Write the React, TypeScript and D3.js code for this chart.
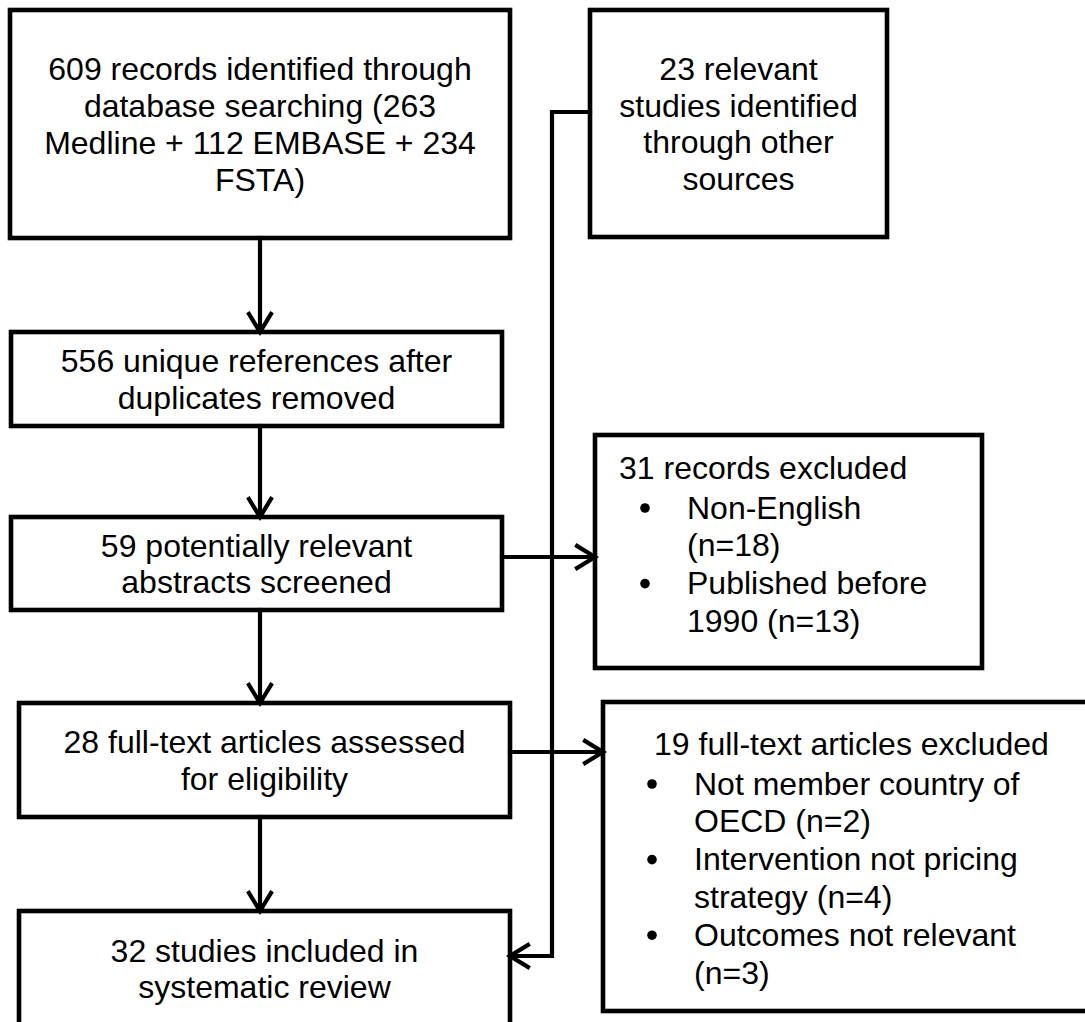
import React from "react";
import * as d3 from "d3";

const WIDTH = 1085;
const HEIGHT = 1022;

// box texts
const identifiedLines = ["609 records identified through", "database searching (263", "Medline + 112 EMBASE + 234", "FSTA)"];
const otherSourcesLines = ["23 relevant", "studies identified", "through other", "sources"];
const uniqueLines = ["556 unique references after", "duplicates removed"];
const screenedLines = ["59 potentially relevant", "abstracts screened"];
const assessedLines = ["28 full-text articles assessed", "for eligibility"];
const includedLines = ["32 studies included in", "systematic review"];

const recordsExcludedTitle = "31 records excluded";
const recordsExcludedItems = [["Non-English", "(n=18)"], ["Published before", "1990 (n=13)"]];
const articlesExcludedTitle = "19 full-text articles excluded";
const articlesExcludedItems = [
  ["Not member country of", "OECD (n=2)"],
  ["Intervention not pricing", "strategy (n=4)"],
  ["Outcomes not relevant", "(n=3)"],
];

type Box = { x: number; y: number; w: number; h: number };
const layout: Record<string, Box> = {
  identified: { x: 10, y: 10, w: 500, h: 228 },
  other: { x: 590, y: 10, w: 297, h: 227 },
  unique: { x: 11, y: 332, w: 491, h: 94 },
  screened: { x: 11, y: 517, w: 491, h: 93 },
  assessed: { x: 19, y: 703, w: 491, h: 114 },
  included: { x: 19, y: 911, w: 491, h: 115 },
  recordsExcl: { x: 595, y: 435, w: 387, h: 233 },
  articlesExcl: { x: 603, y: 702, w: 490, h: 309 },
};

const FONT = "'Liberation Sans', Arial, Helvetica, sans-serif";
const FS = 32;
const LH = 36.7;
const BOX_SW = 4.6;
const LINE_SW = 4.2;

const line = d3.line<[number, number]>().x(d => d[0]).y(d => d[1]);

function head(tip: [number, number], dir: [number, number]) {
  const len = 18, half = 11;
  const [dx, dy] = dir;
  const bx = tip[0] - dx * len, by = tip[1] - dy * len;
  const px = -dy, py = dx;
  return line([[bx + px * half, by + py * half], tip, [bx - px * half, by - py * half]]) || "";
}

function CenteredBox({ b, lines }: { b: Box; lines: string[] }) {
  const cx = b.x + b.w / 2;
  const cy = b.y + b.h / 2;
  const first = cy - ((lines.length - 1) * LH) / 2;
  return (
    <g>
      <rect x={b.x} y={b.y} width={b.w} height={b.h} fill="#fff" stroke="#000" strokeWidth={BOX_SW} />
      {lines.map((t, i) => (
        <text key={i} x={cx} y={first + i * LH + 11.5} textAnchor="middle">{t}</text>
      ))}
    </g>
  );
}

function ListBox({ b, title, items, titleX, titleY, bulletX, textX }:
  { b: Box; title: string; items: string[][]; titleX: number; titleY: number; bulletX: number; textX: number }) {
  const step = 37.8;
  let row = 0;
  return (
    <g>
      <rect x={b.x} y={b.y} width={b.w} height={b.h} fill="#fff" stroke="#000" strokeWidth={BOX_SW} />
      <text x={titleX} y={titleY + 11.5}>{title}</text>
      {items.map((it, i) => {
        const startRow = row;
        row += it.length;
        const y0 = titleY + 40 + startRow * step;
        return (
          <g key={i}>
            <circle cx={bulletX} cy={y0 + 1} r={4.8} fill="#000" />
            {it.map((t, j) => (
              <text key={j} x={textX} y={y0 + j * step + 11.5}>{t}</text>
            ))}
          </g>
        );
      })}
    </g>
  );
}

export default function App() {
  const L = layout;
  const ax = 260;
  const down = (y1: number, y2: number) => (
    <g>
      <path d={line([[ax, y1], [ax, y2 - 2]]) || ""} />
      <path d={head([ax, y2], [0, 1])} />
    </g>
  );
  const right = (x1: number, x2: number, y: number) => (
    <g>
      <path d={line([[x1, y], [x2 - 2, y]]) || ""} />
      <path d={head([x2, y], [1, 0])} />
    </g>
  );
  const busX = 552;
  const busTop = 112;
  const busBottom = 956;

  return (
    <svg width={WIDTH} height={HEIGHT} style={{ position: "absolute", left: 0, top: 0, display: "block", background: "#fff" }}
      fontFamily={FONT} fontSize={FS} fill="#000">
      <rect width={WIDTH} height={HEIGHT} fill="#fff" />
      <CenteredBox b={L.identified} lines={identifiedLines} />
      <CenteredBox b={L.other} lines={otherSourcesLines} />
      <CenteredBox b={L.unique} lines={uniqueLines} />
      <CenteredBox b={L.screened} lines={screenedLines} />
      <CenteredBox b={L.assessed} lines={assessedLines} />
      <CenteredBox b={L.included} lines={includedLines} />
      <ListBox b={L.recordsExcl} title={recordsExcludedTitle} items={recordsExcludedItems}
        titleX={619} titleY={467} bulletX={645} textX={687} />
      <ListBox b={L.articlesExcl} title={articlesExcludedTitle} items={articlesExcludedItems}
        titleX={654} titleY={743} bulletX={652} textX={694} />

      <g fill="none" stroke="#000" strokeWidth={LINE_SW} strokeLinejoin="miter" strokeLinecap="square">
        {down(L.identified.y + L.identified.h, L.unique.y)}
        {down(L.unique.y + L.unique.h, L.screened.y)}
        {down(L.screened.y + L.screened.h, L.assessed.y)}
        {down(L.assessed.y + L.assessed.h, L.included.y)}
        {right(L.screened.x + L.screened.w, L.recordsExcl.x, 557)}
        {right(L.assessed.x + L.assessed.w, L.articlesExcl.x, 752)}
        <path d={line([[L.other.x, busTop], [busX, busTop], [busX, busBottom], [L.included.x + L.included.w + 2, busBottom]]) || ""} />
        <path d={head([L.included.x + L.included.w, busBottom], [-1, 0])} />
      </g>
    </svg>
  );
}
